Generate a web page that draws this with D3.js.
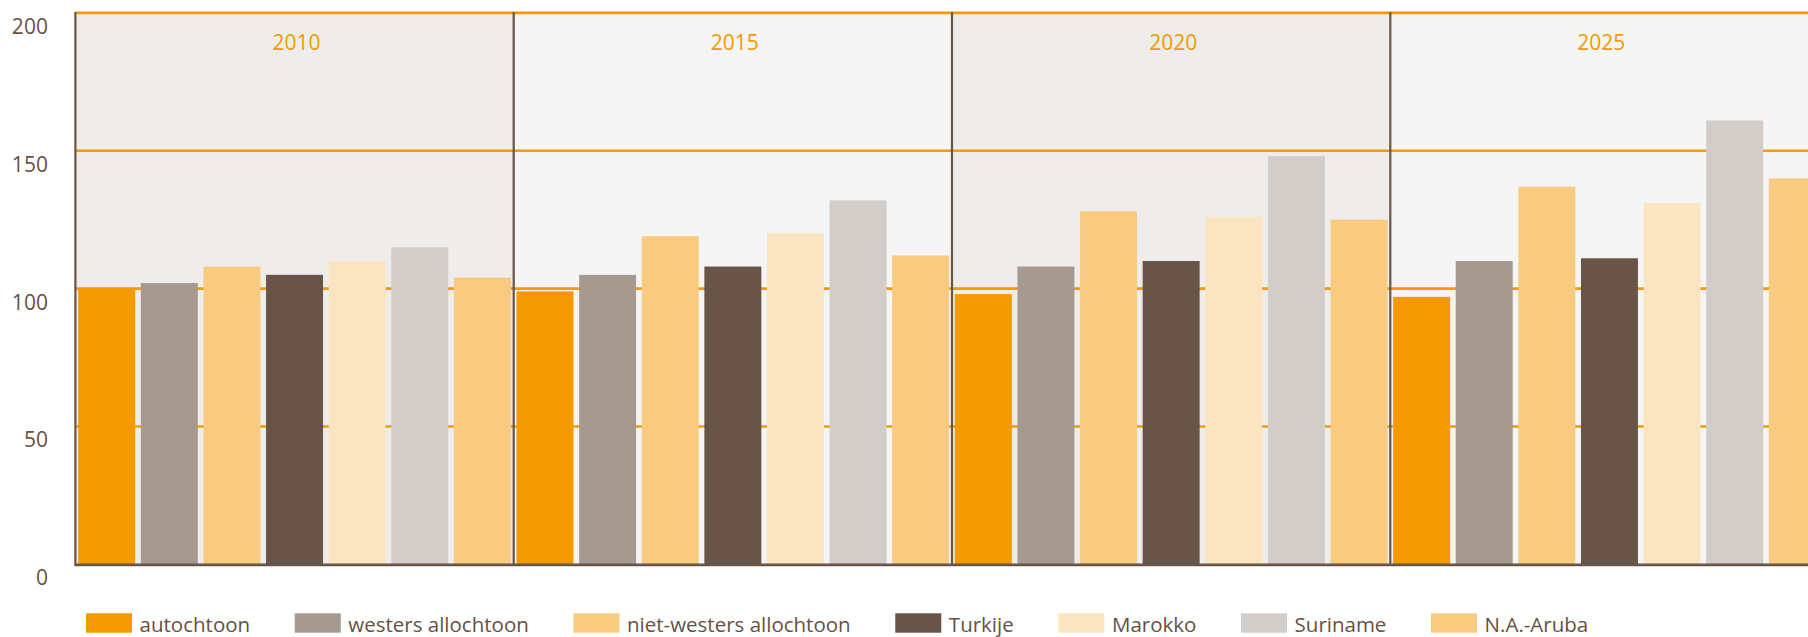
<!DOCTYPE html>
<html>
<head>
<meta charset="utf-8">
<script src="https://cdn.jsdelivr.net/npm/d3@7"></script>
<style>
  html, body { margin: 0; padding: 0; background: #ffffff; }
  svg { display: block; font-family: "Open Sans", "Noto Sans", sans-serif; }
</style>
</head>
<body>
<svg id="chart" width="1808" height="637"></svg>
<script>
// ---- data ----
const years = ["2010", "2015", "2020", "2025"];
const seriesNames = ["autochtoon", "westers allochtoon", "niet-westers allochtoon", "Turkije", "Marokko", "Suriname", "N.A.-Aruba"];
const seriesColors = ["#F29A00", "#A69990", "#F8CB80", "#685548", "#FBE5C0", "#D2CDC8", "#F8CB80"];
const values2010 = [100, 102, 108, 105, 110, 115, 104];
const values2015 = [99, 105, 119, 108, 120, 132, 112];
const values2020 = [98, 108, 128, 110, 126, 148, 125];
const values2025 = [97, 110, 137, 111, 131, 161, 140];
const yTicks = [0, 50, 100, 150, 200];

const valuesByYear = [values2010, values2015, values2020, values2025];
const data = [];
years.forEach((yr, i) => seriesNames.forEach((s, j) => data.push({year: yr, series: s, value: valuesByYear[i][j], color: seriesColors[j]})));

// ---- layout ----
const W = 1808, H = 637;
const plotLeft = 75.4, panelW = 438.3;
const plotTop = 12.9, plotBottom = 564.3;
const svg = d3.select("#chart");

const x0 = d3.scaleBand().domain(years).range([plotLeft, plotLeft + panelW * years.length]).padding(0);
const x1 = d3.scaleBand().domain(seriesNames).range([0, panelW]).paddingInner(0.09).paddingOuter(0.045);
const y = d3.scaleLinear().domain([0, 200]).range([plotBottom, plotTop]);

const panelFill = ["#EEEDEB", "#F5F5F5", "#EEEDEB", "#F5F5F5"];
const brown = "#685548";
const orange = "#F29A00";
const textBrown = "#665142";

// panel backgrounds
svg.append("g").selectAll("rect").data(years).join("rect")
  .attr("x", d => x0(d)).attr("y", y(200))
  .attr("width", x0.bandwidth()).attr("height", y(0) - y(200))
  .attr("fill", (d, i) => panelFill[i]);

// gridlines
svg.append("g").selectAll("line").data(yTicks.filter(v => v > 0)).join("line")
  .attr("x1", plotLeft).attr("x2", W)
  .attr("y1", d => y(d)).attr("y2", d => y(d))
  .attr("stroke", orange).attr("stroke-width", 2.6);

// bars
svg.append("g").selectAll("rect").data(data).join("rect")
  .attr("x", d => x0(d.year) + x1(d.series))
  .attr("y", d => y(d.value))
  .attr("width", x1.bandwidth())
  .attr("height", d => y(0) - y(d.value))
  .attr("fill", d => d.color);

// panel dividers + left axis line
svg.append("g").selectAll("line").data(years).join("line")
  .attr("x1", d => x0(d)).attr("x2", d => x0(d))
  .attr("y1", y(200) - 1).attr("y2", y(0) + 1)
  .attr("stroke", brown).attr("stroke-width", 2.2);

// bottom axis line
svg.append("line")
  .attr("x1", plotLeft - 1).attr("x2", W)
  .attr("y1", y(0) + 0.6).attr("y2", y(0) + 0.6)
  .attr("stroke", brown).attr("stroke-width", 2.6);

// y axis labels
const yAxis = d3.axisLeft(y).tickValues(yTicks).tickSize(0).tickPadding(27.5).tickFormat(d3.format("d"));
const gy = svg.append("g").attr("transform", `translate(${plotLeft},0)`).call(yAxis);
gy.select(".domain").remove();
gy.selectAll("text")
  .attr("dy", null)
  .attr("y", 12.5)
  .attr("dominant-baseline", "central")
  .attr("fill", textBrown)
  .attr("font-size", 21)
  .attr("font-family", "'Open Sans', sans-serif");

// year labels (centred in the visible part of each panel)
svg.append("g").selectAll("text").data(years).join("text")
  .attr("x", d => {
    const a = x0(d), b = Math.min(x0(d) + x0.bandwidth(), W);
    return (a + b) / 2 + 2;
  })
  .attr("y", 42)
  .attr("text-anchor", "middle")
  .attr("dominant-baseline", "central")
  .attr("fill", orange)
  .attr("font-size", 21)
  .text(d => d);

// legend
const legend = svg.append("g");
const swW = 46, swH = 19.4, swY = 613.3, textPad = 7.6;
const items = legend.selectAll("g").data(seriesNames).join("g");
items.append("rect").attr("width", swW).attr("height", swH).attr("y", swY)
  .attr("fill", (d, i) => seriesColors[i]);
items.append("text").attr("x", swW + textPad).attr("y", 624)
  .attr("dominant-baseline", "central")
  .attr("fill", textBrown).attr("font-size", 20.5)
  .text(d => d);
const widths = [];
items.selectAll("text").each(function() { widths.push(this.getComputedTextLength()); });
const legendStart = 86, lastSwatchX = 1431;
const sumW = d3.sum(widths.slice(0, widths.length - 1));
const gap = (lastSwatchX - legendStart - (seriesNames.length - 1) * (swW + textPad) - sumW) / (seriesNames.length - 1);
let cx = legendStart;
items.attr("transform", (d, i) => {
  const t = `translate(${cx},0)`;
  cx += swW + textPad + widths[i] + gap;
  return t;
});
</script>
</body>
</html>
